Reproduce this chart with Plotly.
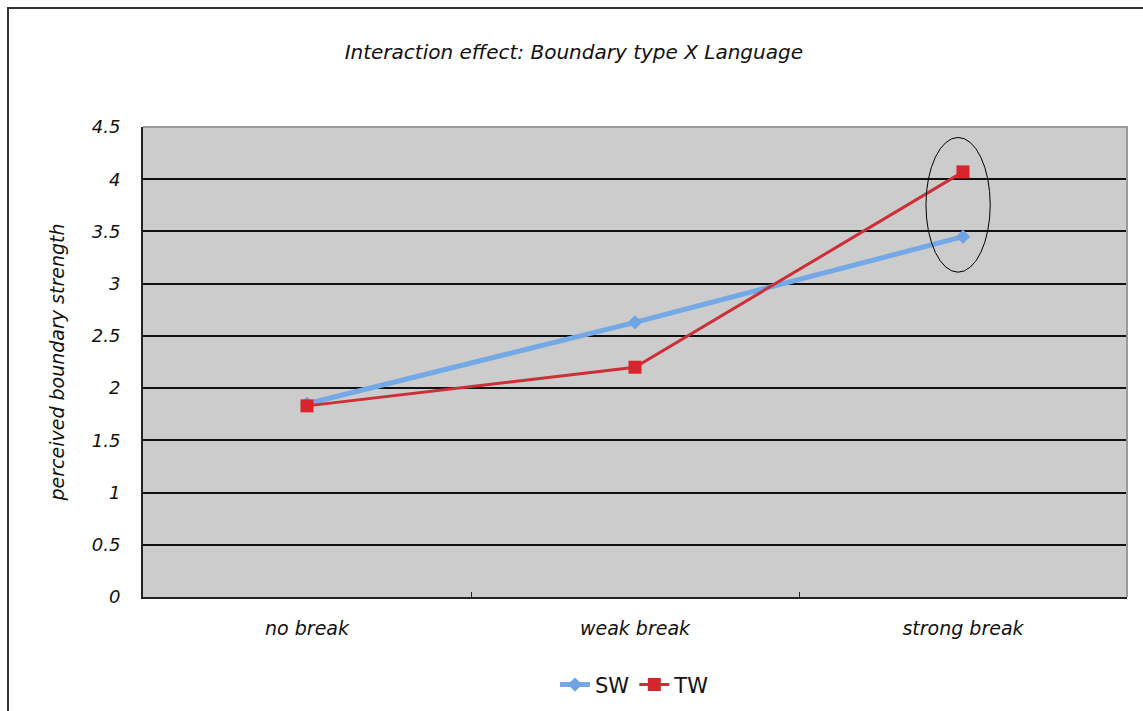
import plotly.graph_objects as go

# Boundary type categories and mean perceived boundary strength per language group
categories = ["no break", "weak break", "strong break"]
sw_values = [1.85, 2.63, 3.45]
tw_values = [1.83, 2.20, 4.07]
y_ticks = [0, 0.5, 1, 1.5, 2, 2.5, 3, 3.5, 4, 4.5]
y_tick_labels = ["0", "0.5", "1", "1.5", "2", "2.5", "3", "3.5", "4", "4.5"]

FONT = "DejaVu Sans"
TEXT = "#111111"

fig = go.Figure()

fig.add_trace(go.Scatter(
    x=categories, y=sw_values, name="SW", mode="lines+markers",
    line=dict(color="#74a8e6", width=5),
    marker=dict(symbol="diamond", size=11, color="#6ea3e4"),
))
fig.add_trace(go.Scatter(
    x=categories, y=tw_values, name="TW", mode="lines+markers",
    line=dict(color="#cc2f38", width=3),
    marker=dict(symbol="square", size=13, color="#d8242d"),
))

# Ellipse highlighting the strong-break pair
fig.add_shape(type="circle", xref="x", yref="y",
              x0=1.887, x1=2.083, y0=3.11, y1=4.40,
              line=dict(color="black", width=1), layer="above")

# Outer chart frame (left and top edges fall inside the canvas)
fig.add_shape(type="path", xref="paper", yref="paper",
              path="M -0.1372,-0.5 L -0.1372,1.2532 L 1.2,1.2532",
              line=dict(color="#333333", width=2))

fig.update_layout(
    width=1143, height=711,
    margin=dict(l=143, r=16, t=127, b=114, autoexpand=False),
    paper_bgcolor="white",
    plot_bgcolor="#cccccc",
    font=dict(family=FONT, color=TEXT, size=18),
    title=dict(text="<i>Interaction effect: Boundary type X Language</i>",
               x=0.502, xref="container", xanchor="center",
               y=1 - 52 / 711, yref="container", yanchor="middle",
               font=dict(family=FONT, size=20, color=TEXT)),
    showlegend=True,
    legend=dict(orientation="h", x=0.5, xanchor="center",
                y=-0.187, yanchor="middle",
                font=dict(family=FONT, size=21, color=TEXT),
                tracegroupgap=0),
    xaxis=dict(
        type="category", categoryarray=categories,
        range=[-0.5, 2.5], automargin=False,
        tickvals=categories,
        ticktext=[f"<i>{c}</i>" for c in categories],
        tickson="boundaries", ticks="inside", ticklen=5,
        tickcolor="#222222", tickwidth=1,
        showline=True, linecolor="#222222", linewidth=2,
        mirror=False, showgrid=False, zeroline=False,
        tickfont=dict(family=FONT, size=19, color=TEXT),
        ticklabelstandoff=13,
    ),
    yaxis=dict(
        range=[0, 4.5], tickvals=y_ticks, automargin=False,
        ticktext=[f"<i>{t}</i>" for t in y_tick_labels],
        showgrid=True, gridcolor="#111111", gridwidth=2,
        showline=True, linecolor="#222222", linewidth=2,
        zeroline=False,
        ticks="", tickfont=dict(family=FONT, size=18, color=TEXT),
        ticklabelstandoff=17,
        title=dict(text="<i>perceived boundary strength</i>",
                   font=dict(family=FONT, size=19, color=TEXT),
                   standoff=22),
    ),
)

# Light border on the top and right of the plot area
fig.add_shape(type="path", xref="paper", yref="paper",
              path="M 0,1 L 1,1 L 1,0",
              line=dict(color="#9a9a9a", width=2), layer="above")

fig.write_html("out.html")
